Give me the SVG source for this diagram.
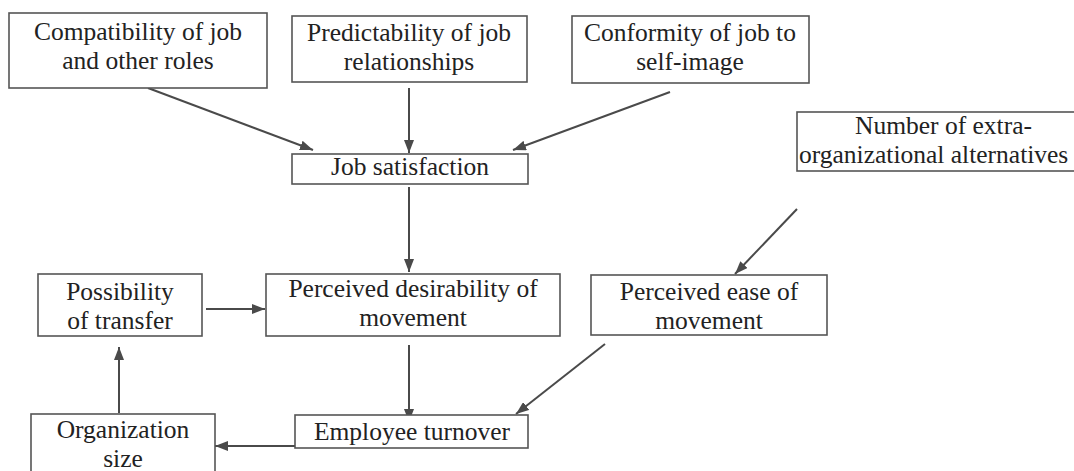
<svg xmlns="http://www.w3.org/2000/svg" width="1074" height="471" viewBox="0 0 1074 471">
<style>
  .box { fill: #ffffff; stroke: #555555; stroke-width: 1.6; }
  .lbl { font-family: 'Liberation Serif', 'DejaVu Serif', serif; font-size: 25.5px; fill: #222222; text-anchor: middle; }
  .lbl-s { font-family: 'Liberation Serif', 'DejaVu Serif', serif; font-size: 25.5px; fill: #222222; text-anchor: start; }
  .edge { stroke: #4a4a4a; stroke-width: 2; fill: none; marker-end: url(#arr); }
</style>
<defs>
  <marker id="arr" markerUnits="userSpaceOnUse" markerWidth="13" markerHeight="10" refX="13" refY="5" orient="auto">
    <path d="M0,0 L13,5 L0,10 z" fill="#4a4a4a"/>
  </marker>
</defs>
<rect width="1074" height="471" fill="#ffffff"/>

<g id="connectors">
  <line class="edge" x1="148" y1="88" x2="313" y2="150"/>
  <line class="edge" x1="409" y1="88" x2="409" y2="153"/>
  <line class="edge" x1="670" y1="92" x2="513" y2="150"/>
  <line class="edge" x1="409" y1="187" x2="409" y2="272"/>
  <line class="edge" x1="206" y1="309" x2="265" y2="309"/>
  <line class="edge" x1="797" y1="209" x2="735" y2="274"/>
  <line class="edge" x1="409" y1="345" x2="409" y2="422"/>
  <line class="edge" x1="605" y1="344" x2="516" y2="414"/>
  <line class="edge" x1="295" y1="446" x2="215" y2="446"/>
  <line class="edge" x1="119" y1="413" x2="119" y2="347"/>
</g>

<g id="node-compatibility">
  <rect class="box" x="9" y="13" width="258" height="75"/>
  <text class="lbl" x="138" y="40">Compatibility of job</text>
  <text class="lbl" x="138" y="69">and other roles</text>
</g>

<g id="node-predictability">
  <rect class="box" x="292" y="16" width="235" height="66"/>
  <text class="lbl" x="409" y="41">Predictability of job</text>
  <text class="lbl" x="409" y="70">relationships</text>
</g>

<g id="node-conformity">
  <rect class="box" x="572" y="16" width="237" height="67"/>
  <text class="lbl" x="690" y="41">Conformity of job to</text>
  <text class="lbl" x="690" y="70">self-image</text>
</g>

<g id="node-alternatives">
  <rect class="box" x="797" y="112" width="290" height="59"/>
  <text class="lbl-s" x="855" y="134">Number of extra-</text>
  <text class="lbl-s" x="799" y="163">organizational alternatives</text>
</g>

<g id="node-job-satisfaction">
  <rect class="box" x="292" y="154" width="236" height="30"/>
  <text class="lbl" x="410" y="175">Job satisfaction</text>
</g>

<g id="node-possibility">
  <rect class="box" x="38" y="274" width="164" height="62"/>
  <text class="lbl" x="120" y="300">Possibility</text>
  <text class="lbl" x="120" y="329">of transfer</text>
</g>

<g id="node-desirability">
  <rect class="box" x="266" y="274" width="294" height="62"/>
  <text class="lbl" x="413" y="297">Perceived desirability of</text>
  <text class="lbl" x="413" y="326">movement</text>
</g>

<g id="node-ease">
  <rect class="box" x="591" y="275" width="236" height="60"/>
  <text class="lbl" x="709" y="300">Perceived ease of</text>
  <text class="lbl" x="709" y="329">movement</text>
</g>

<g id="node-turnover">
  <rect class="box" x="295" y="415" width="233" height="33"/>
  <text class="lbl" x="412" y="440">Employee turnover</text>
</g>

<g id="node-org-size">
  <rect class="box" x="31" y="414" width="184" height="70"/>
  <text class="lbl" x="123" y="438">Organization</text>
  <text class="lbl" x="123" y="467">size</text>
</g>
</svg>
